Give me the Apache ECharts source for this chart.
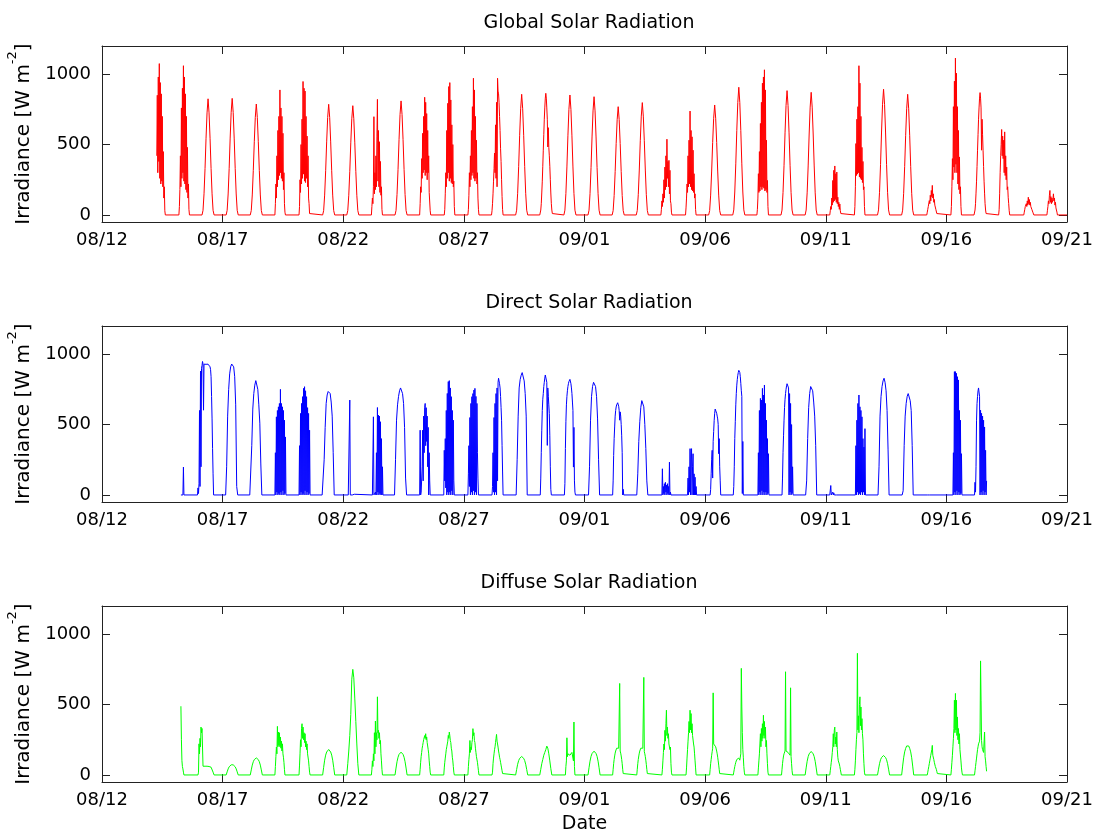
<!DOCTYPE html>
<html>
<head>
<meta charset="utf-8">
<title>Solar Radiation</title>
<script src="https://cdn.jsdelivr.net/npm/echarts@6/dist/echarts.min.js"></script>
<style>
  html, body { margin: 0; padding: 0; background: #fff; }
  #chart { width: 1097px; height: 835px; }
</style>
</head>
<body>
<div id="chart"></div>
<script>
// Tick labels for the shared date axis (days since 08/12, every 5 days)
const dateTicks = ['08/12', '08/17', '08/22', '08/27', '09/01', '09/06', '09/11', '09/16', '09/21'];
const irradianceTicks = [0, 500, 1000];

// Each record: [day index from 08/12, first hour (UTC), step in hours, irradiance values W m-2]
const globalDays = [
  [2, 6.5, 0.5, [420, 850, 300, 980, 380, 1075, 260, 940, 220, 860, 240, 700, 200, 450, 120, 200, 30, 0]],
  [3, 4.5, 0.5, [0, 60, 180, 420, 200, 760, 260, 900, 300, 1060, 240, 980, 220, 860, 180, 700, 160, 480, 120, 220, 40, 0]],
  [4, 3.5, 1, [0, 33, 150, 330, 545, 725, 825, 725, 545, 330, 150, 33, 0]],
  [5, 3.5, 1, [0, 33, 149, 331, 546, 729, 828, 729, 546, 331, 149, 33, 0]],
  [6, 3.5, 1, [0, 32, 142, 315, 520, 693, 788, 693, 520, 315, 142, 32, 0]],
  [7, 4, 0.5, [0, 80, 220, 120, 420, 200, 600, 250, 700, 280, 888, 300, 760, 260, 700, 240, 580, 180, 300, 80, 20, 0]],
  [8, 4, 0.5, [0, 60, 250, 160, 500, 220, 680, 260, 948, 290, 900, 240, 880, 230, 700, 260, 560, 200, 420, 120, 80, 10, 0]],
  [9, 3.5, 1, [0, 31, 141, 314, 519, 692, 786, 692, 519, 314, 141, 31, 0]],
  [10, 3.5, 1, [0, 31, 140, 310, 512, 683, 776, 683, 512, 310, 140, 31, 0]],
  [11, 4, 0.5, [0, 60, 120, 80, 200, 698, 150, 300, 180, 420, 200, 560, 821, 240, 600, 200, 520, 160, 380, 140, 200, 40, 0]],
  [12, 3.5, 1, [0, 32, 146, 324, 535, 713, 810, 713, 535, 324, 146, 32, 0]],
  [13, 4, 0.5, [0, 80, 200, 160, 400, 260, 580, 300, 700, 320, 836, 280, 800, 300, 720, 250, 600, 300, 420, 160, 160, 30, 0]],
  [14, 4.5, 0.5, [0, 40, 150, 300, 200, 600, 260, 793, 300, 912, 240, 940, 260, 817, 230, 640, 220, 500, 200, 240, 60, 0]],
  [15, 4, 0.5, [0, 40, 140, 300, 200, 420, 250, 600, 280, 769, 300, 971, 260, 888, 240, 700, 260, 531, 220, 300, 120, 40, 0]],
  [16, 3.5, 0.5, [0, 30, 80, 150, 240, 330, 440, 300, 640, 260, 800, 200, 971, 880, 860, 800, 700, 600, 470, 380, 250, 130, 40, 0]],
  [17, 3.5, 1, [0, 34, 154, 343, 566, 754, 857, 754, 566, 343, 154, 34, 0]],
  [18, 3.5, 0.5, [0, 10, 35, 80, 156, 240, 346, 460, 570, 680, 760, 830, 864, 830, 760, 680, 483, 620, 480, 420, 346, 250, 156, 80, 35, 10, 0]],
  [19, 3.5, 1, [0, 34, 153, 341, 562, 750, 852, 750, 562, 341, 153, 34, 0]],
  [20, 3.5, 1, [0, 34, 151, 336, 554, 739, 840, 739, 554, 336, 151, 34, 0]],
  [21, 3.5, 1, [0, 31, 138, 308, 508, 677, 769, 677, 508, 308, 138, 31, 0]],
  [22, 3.5, 1, [0, 32, 144, 319, 527, 702, 798, 702, 527, 319, 144, 32, 0]],
  [23, 4, 0.5, [0, 40, 100, 60, 150, 90, 250, 120, 340, 180, 420, 200, 538, 260, 380, 200, 388, 150, 317, 100, 80, 20, 0]],
  [24, 4.5, 0.5, [0, 50, 120, 220, 160, 420, 200, 531, 220, 738, 200, 600, 180, 555, 170, 460, 160, 293, 120, 150, 40, 0]],
  [25, 3.5, 1, [0, 31, 141, 312, 515, 687, 781, 687, 515, 312, 141, 31, 0]],
  [26, 3.5, 1, [0, 36, 163, 363, 599, 798, 907, 798, 599, 363, 163, 36, 0]],
  [27, 3.5, 0.5, [0, 40, 120, 293, 160, 450, 170, 650, 200, 800, 180, 936, 200, 980, 190, 1031, 170, 888, 180, 531, 160, 245, 60, 0]],
  [28, 3.5, 1, [0, 35, 159, 353, 583, 777, 883, 777, 583, 353, 159, 35, 0]],
  [29, 3.5, 1, [0, 35, 157, 348, 575, 766, 871, 766, 575, 348, 157, 35, 0]],
  [30, 4, 0.5, [0, 30, 60, 40, 120, 70, 245, 90, 317, 100, 348, 110, 293, 90, 305, 80, 126, 60, 90, 40, 78, 30, 10, 0]],
  [31, 4.5, 0.5, [0, 60, 200, 507, 280, 680, 290, 769, 300, 1060, 270, 936, 260, 700, 250, 480, 230, 380, 180, 200, 60, 0]],
  [32, 3.5, 1, [0, 36, 161, 357, 589, 786, 893, 786, 589, 357, 161, 36, 0]],
  [33, 3.5, 1, [0, 34, 154, 343, 566, 754, 857, 754, 566, 343, 154, 34, 0]],
  [34, 4.5, 0.5, [0, 20, 40, 60, 50, 102, 80, 140, 100, 174, 130, 210, 120, 150, 90, 110, 70, 78, 40, 30, 10, 0]],
  [35, 4.5, 0.5, [0, 60, 200, 400, 250, 769, 340, 950, 300, 1114, 360, 1007, 300, 769, 220, 600, 180, 412, 150, 200, 60, 0]],
  [36, 3.5, 0.5, [0, 10, 35, 80, 155, 240, 345, 460, 570, 680, 760, 830, 869, 830, 760, 460, 680, 570, 460, 345, 240, 155, 80, 35, 10, 0]],
  [37, 4, 0.5, [0, 40, 150, 300, 420, 500, 607, 420, 560, 400, 531, 300, 590, 280, 420, 250, 340, 180, 200, 126, 80, 30, 0]],
  [38, 5, 0.5, [0, 20, 40, 60, 50, 80, 60, 100, 70, 126, 80, 110, 70, 90, 60, 70, 40, 40, 20, 10, 0]],
  [39, 4, 0.5, [0, 30, 60, 100, 80, 140, 174, 90, 130, 80, 120, 90, 110, 150, 100, 120, 70, 90, 50, 40, 20, 0]],
  [40, 0, 1, [0]]
];

const directDays = [
  [3, 6.5, 0.5, [0, 0, 0, 0, 0, 198, 0]],
  [4, -1, 0.5, [0, 50, 10, 80, 600, 60, 880, 200, 900, 920, 948, 930, 602, 929, 930, 928, 929, 928, 930, 929, 928, 929, 928, 925, 920, 910, 890, 840, 700, 540, 330, 150, 0]],
  [5, 3, 1, [0, 200, 560, 750, 860, 910, 930, 936, 910, 840, 640, 60, 0]],
  [6, 3, 1, [0, 0, 350, 610, 720, 780, 812, 800, 750, 640, 510, 220, 0]],
  [7, 4, 0.5, [0, 300, 0, 555, 20, 600, 0, 626, 10, 650, 0, 750, 20, 650, 0, 626, 30, 600, 0, 531, 10, 412, 0, 0]],
  [8, 4, 0.5, [0, 350, 0, 579, 20, 650, 0, 698, 10, 757, 0, 769, 30, 740, 0, 698, 20, 620, 0, 579, 10, 460, 0]],
  [9, 3, 1, [0, 0, 250, 480, 650, 710, 735, 740, 720, 660, 560, 300, 0]],
  [10, 5, 0.5, [0, 0, 10, 674, 0, 10, 5, 12, 0, 8, 0, 10, 5, 0]],
  [11, 5, 0.5, [0, 0, 555, 0, 10, 0, 20, 0, 300, 0, 621, 20, 567, 0, 560, 10, 520, 0, 400, 0, 200, 0]],
  [12, 3, 1, [0, 250, 531, 640, 700, 740, 760, 762, 720, 650, 480, 120, 0]],
  [13, 4, 0.5, [0, 460, 0, 20, 10, 200, 460, 100, 560, 300, 620, 650, 350, 620, 380, 560, 200, 480, 0, 300, 100, 0]],
  [14, 4, 0.5, [0, 317, 100, 400, 50, 600, 0, 721, 20, 805, 0, 812, 20, 760, 0, 698, 30, 600, 0, 531, 100, 0]],
  [15, 4, 0.5, [0, 150, 350, 60, 550, 0, 650, 20, 698, 0, 720, 30, 745, 0, 757, 20, 700, 0, 650, 300, 120, 0]],
  [16, 4, 0.5, [0, 60, 300, 20, 550, 0, 650, 20, 720, 0, 760, 100, 800, 829, 820, 790, 760, 700, 620, 531, 350, 170, 0]],
  [17, 4, 1, [0, 250, 560, 760, 820, 850, 869, 860, 810, 720, 560, 0]],
  [18, 4, 0.5, [0, 120, 300, 460, 600, 680, 720, 770, 800, 830, 852, 850, 840, 800, 352, 760, 700, 640, 579, 420, 200, 40, 0]],
  [19, 4, 0.5, [0, 80, 330, 520, 640, 700, 740, 770, 790, 805, 815, 821, 810, 790, 760, 721, 660, 600, 198, 480, 100, 20, 0]],
  [20, 4, 1, [0, 200, 531, 700, 770, 800, 810, 770, 698, 540, 250, 0]],
  [21, 4, 0.5, [0, 100, 280, 400, 483, 560, 600, 625, 640, 650, 655, 650, 630, 600, 531, 590, 560, 500, 420, 300, 0, 40, 0]],
  [22, 4, 1, [0, 150, 380, 520, 620, 670, 681, 626, 500, 330, 100, 0]],
  [23, 5, 0.5, [0, 186, 0, 60, 10, 80, 0, 90, 20, 70, 0, 80, 10, 60, 0, 233, 0, 20, 0]],
  [24, 6.5, 0.5, [0, 120, 0, 200, 20, 329, 0, 250, 329, 0, 200, 293, 0, 150, 0, 126, 0, 60, 0]],
  [25, 5, 0.5, [0, 40, 150, 250, 317, 120, 380, 450, 530, 580, 610, 614, 600, 580, 560, 540, 500, 293, 400, 200, 100, 0]],
  [26, 4, 0.5, [0, 60, 200, 400, 520, 640, 720, 780, 820, 850, 870, 885, 888, 870, 840, 793, 740, 700, 10, 380, 0]],
  [27, 4.5, 0.5, [0, 300, 0, 600, 20, 686, 0, 674, 30, 757, 0, 710, 20, 781, 0, 650, 20, 531, 0, 400, 10, 293, 0]],
  [28, 4.5, 0.5, [0, 120, 300, 420, 531, 620, 680, 720, 750, 775, 790, 793, 780, 760, 0, 720, 20, 650, 0, 500, 10, 200, 0]],
  [29, 4, 1, [0, 100, 400, 620, 720, 770, 781, 740, 660, 560, 350, 0]],
  [30, 4, 0.5, [0, 0, 67, 0, 10, 0, 20, 0, 15, 0, 10, 0, 5, 0]],
  [31, 5.5, 0.5, [0, 350, 0, 531, 20, 650, 0, 710, 10, 626, 0, 600, 20, 555, 0, 400, 20, 340, 0, 471, 0]],
  [32, 4, 1, [0, 200, 560, 700, 770, 810, 829, 800, 740, 600, 320, 0]],
  [33, 4, 1, [0, 30, 350, 560, 650, 700, 720, 726, 670, 600, 350, 0]],
  [34, 5, 0.5, [0, 5, 0, 8, 0, 5, 0]],
  [35, 6.5, 0.5, [0, 300, 0, 876, 20, 876, 0, 864, 30, 840, 0, 817, 20, 600, 0, 531, 10, 293, 0]],
  [36, 4, 0.5, [0, 90, 20, 200, 531, 650, 700, 740, 760, 769, 700, 0, 602, 20, 580, 0, 560, 30, 531, 0, 483, 20, 317, 0, 100]]
];

const diffuseDays = [
  [3, 6.5, 0.5, [488, 250, 102, 60, 43, 20, 0]],
  [4, -0.5, 0.5, [0, 20, 221, 150, 260, 200, 340, 300, 330, 320, 62]],
  [4, 5.5, 1, [62, 62, 63, 62, 60, 60, 58, 55, 45, 20, 0]],
  [5, 3.5, 1, [0, 22, 43, 58, 67, 72, 74, 72, 67, 58, 43, 22, 0]],
  [6, 3.5, 1, [0, 36, 70, 94, 109, 119, 121, 119, 109, 94, 70, 36, 0]],
  [7, 4, 0.5, [0, 60, 130, 198, 150, 345, 200, 305, 210, 300, 200, 269, 190, 240, 170, 221, 150, 126, 90, 40, 0]],
  [8, 4, 0.5, [0, 70, 150, 250, 200, 330, 364, 260, 340, 250, 300, 230, 293, 200, 240, 180, 221, 150, 150, 100, 60, 20, 0]],
  [9, 3.5, 1, [0, 54, 105, 141, 163, 177, 181, 177, 163, 141, 105, 54, 0]],
  [10, 3.5, 1, [0, 80, 170, 280, 430, 680, 750, 690, 540, 380, 220, 80, 0]],
  [11, 4, 0.5, [0, 40, 100, 60, 150, 100, 300, 150, 383, 200, 300, 250, 555, 300, 317, 260, 300, 220, 245, 150, 100, 40, 0]],
  [12, 3.5, 1, [0, 49, 94, 126, 146, 159, 162, 159, 146, 126, 94, 49, 0]],
  [13, 4, 0.5, [0, 40, 90, 130, 160, 190, 210, 230, 250, 240, 280, 260, 293, 250, 270, 230, 220, 180, 150, 100, 60, 20, 0]],
  [14, 4, 0.5, [0, 50, 90, 120, 150, 180, 200, 220, 240, 281, 260, 305, 280, 245, 230, 190, 170, 126, 100, 60, 20, 0]],
  [15, 4, 0.5, [0, 60, 110, 150, 245, 160, 198, 180, 230, 250, 329, 280, 300, 245, 230, 190, 160, 130, 126, 90, 60, 30, 0]],
  [16, 4, 0.5, [0, 20, 80, 120, 150, 180, 200, 230, 260, 288, 240, 220, 198, 170, 150, 126, 110, 90, 70, 50, 30, 10, 0]],
  [17, 3.5, 1, [0, 39, 76, 102, 118, 128, 131, 128, 118, 102, 76, 39, 0]],
  [18, 3.5, 1, [0, 40, 80, 110, 140, 160, 180, 205, 190, 150, 100, 45, 0]],
  [19, 5, 0.5, [0, 60, 100, 264, 130, 150, 155, 150, 160, 140, 150, 135, 145, 160, 150, 120, 100, 376, 60, 0]],
  [20, 3.5, 1, [0, 51, 98, 132, 152, 166, 169, 166, 152, 132, 98, 51, 0]],
  [21, 4, 0.5, [0, 40, 80, 110, 135, 155, 170, 182, 190, 195, 198, 196, 190, 182, 650, 170, 155, 135, 110, 80, 40, 10, 0]],
  [22, 4, 0.5, [0, 40, 80, 110, 135, 155, 170, 182, 190, 195, 198, 196, 190, 182, 693, 165, 150, 130, 105, 75, 40, 10, 0]],
  [23, 5, 0.5, [0, 40, 100, 160, 220, 180, 317, 240, 364, 460, 280, 340, 260, 293, 220, 230, 180, 198, 80, 20, 0]],
  [24, 5, 0.5, [0, 50, 120, 180, 240, 300, 380, 300, 460, 320, 436, 300, 364, 280, 293, 220, 198, 150, 100, 50, 0]],
  [25, 4.5, 0.5, [0, 40, 80, 110, 140, 165, 190, 583, 220, 233, 230, 220, 200, 185, 170, 150, 126, 100, 70, 40, 10, 0]],
  [26, 4, 0.5, [0, 20, 40, 60, 75, 90, 100, 110, 118, 124, 126, 120, 110, 105, 115, 150, 757, 483, 300, 180, 126, 60, 20, 0]],
  [27, 4.5, 0.5, [0, 50, 100, 150, 220, 293, 200, 330, 240, 364, 260, 424, 280, 380, 260, 340, 200, 245, 150, 80, 20, 0]],
  [28, 4, 0.5, [0, 40, 80, 110, 135, 150, 160, 170, 733, 170, 174, 165, 172, 160, 168, 150, 160, 140, 619, 130, 80, 30, 0]],
  [29, 3.5, 1, [0, 50, 97, 130, 150, 164, 167, 164, 150, 130, 97, 50, 0]],
  [30, 4, 0.5, [0, 30, 60, 90, 120, 160, 200, 293, 200, 317, 340, 220, 269, 200, 305, 180, 126, 100, 110, 78, 60, 40, 20, 0]],
  [31, 4.5, 0.5, [0, 40, 100, 180, 250, 300, 864, 320, 420, 300, 500, 555, 350, 483, 320, 400, 293, 250, 150, 80, 20, 0]],
  [32, 3.5, 1, [0, 41, 80, 108, 124, 135, 138, 135, 124, 108, 80, 41, 0]],
  [33, 3.5, 1, [0, 63, 122, 164, 189, 206, 210, 206, 189, 164, 122, 63, 0]],
  [34, 5, 0.5, [0, 20, 40, 60, 80, 100, 120, 140, 150, 180, 210, 140, 126, 110, 90, 80, 60, 50, 40, 25, 10, 0]],
  [35, 4.5, 0.5, [0, 40, 90, 140, 200, 260, 330, 531, 300, 579, 320, 531, 280, 412, 250, 330, 220, 293, 180, 174, 100, 50, 20, 0]],
  [36, 4, 0.5, [0, 30, 60, 90, 120, 150, 180, 200, 221, 230, 240, 300, 810, 531, 245, 200, 180, 174, 160, 150, 305, 130, 100, 60, 26]]
];

const panels = [
  { title: 'Global Solar Radiation', days: globalDays, color: '#ff0000' },
  { title: 'Direct Solar Radiation', days: directDays, color: '#0000ff' },
  { title: 'Diffuse Solar Radiation', days: diffuseDays, color: '#00ff00' }
];

// Convert day records into [fractional day, value] pairs
function toPoints(days) {
  const pts = [];
  for (const [day, startHour, step, values] of days) {
    values.forEach((v, i) => pts.push([day + (startHour + i * step) / 24, v]));
  }
  return pts;
}

const FONT = 'DejaVu Sans';
const AXIS_COLOR = '#222';
const GRID_TOPS = [46, 326, 606];

const option = {
  animation: false,
  backgroundColor: '#fff',
  title: [],
  grid: [],
  xAxis: [],
  yAxis: [],
  series: []
};

panels.forEach((p, i) => {
  const top = GRID_TOPS[i];
  option.title.push({
    text: p.title,
    left: 584,
    top: top - 37,
    textAlign: 'center',
    textStyle: { fontFamily: FONT, fontSize: 19, fontWeight: 'normal', color: '#000' }
  });
  option.grid.push({
    left: 102, right: 30, top: top, height: 176,
    show: false, containLabel: false, outerBoundsMode: 'none'
  });

  const xBase = {
    gridIndex: i, type: 'value', min: 0, max: 40, interval: 5,
    axisLine: { show: true, onZero: false, lineStyle: { color: AXIS_COLOR, width: 1 } },
    axisTick: { show: true, inside: true, length: 8, lineStyle: { color: AXIS_COLOR } },
    splitLine: { show: false }
  };
  option.xAxis.push(Object.assign({}, xBase, {
    position: 'bottom',
    axisLabel: {
      show: true, margin: 9, fontFamily: FONT, fontSize: 18, color: '#000',
      showMinLabel: true, showMaxLabel: true,
      formatter: (v) => dateTicks[Math.round(v / 5)] || ''
    },
    name: i === 2 ? 'Date' : '',
    nameLocation: 'middle',
    nameGap: 33,
    nameTextStyle: { fontFamily: FONT, fontSize: 19, color: '#000' }
  }));
  option.xAxis.push(Object.assign({}, xBase, { position: 'top', axisLabel: { show: false } }));

  const yBase = {
    gridIndex: i, type: 'value', min: -50, max: 1200,
    axisLine: { show: true, onZero: false, lineStyle: { color: AXIS_COLOR, width: 1 } },
    axisTick: { show: true, inside: true, length: 8, customValues: irradianceTicks, lineStyle: { color: AXIS_COLOR } },
    splitLine: { show: false }
  };
  option.yAxis.push(Object.assign({}, yBase, {
    position: 'left',
    axisLabel: {
      show: true, margin: 11, fontFamily: FONT, fontSize: 18, color: '#000',
      customValues: irradianceTicks,
      formatter: (v) => String(v)
    },
    name: '{t|Irradiance [W m}{sup|-2}{t|]}',
    nameLocation: 'middle',
    nameRotate: 90,
    nameGap: 62,
    nameTextStyle: {
      fontFamily: FONT, fontSize: 20, color: '#000',
      rich: {
        t: { fontFamily: FONT, fontSize: 20, color: '#000', lineHeight: 28, verticalAlign: 'bottom' },
        sup: { fontFamily: FONT, fontSize: 13, color: '#000', lineHeight: 13, verticalAlign: 'top' }
      }
    }
  }));
  option.yAxis.push(Object.assign({}, yBase, { position: 'right', axisLabel: { show: false } }));

  option.series.push({
    type: 'line',
    name: p.title,
    xAxisIndex: 2 * i,
    yAxisIndex: 2 * i,
    data: toPoints(p.days),
    showSymbol: false,
    symbol: 'none',
    silent: true,
    lineStyle: { color: p.color, width: 1 },
    itemStyle: { color: p.color }
  });
});

const chart = echarts.init(document.getElementById('chart'), null, { renderer: 'canvas' });
chart.setOption(option);
</script>
</body>
</html>
